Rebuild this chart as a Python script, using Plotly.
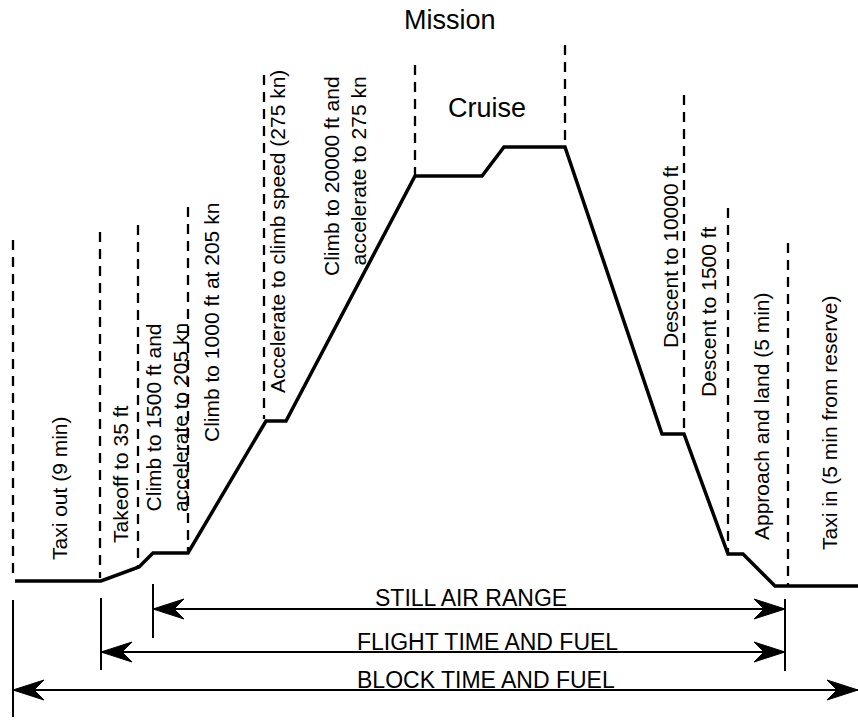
import plotly.graph_objects as go

# ---------------- data (pixel-like units: x = distance, y = height) ----------------
profile_dist = [15, 101, 139, 153, 188, 266, 286, 415, 482, 504, 565, 662, 684, 728, 743, 775, 858]
profile_alt = [140, 140, 154, 168, 168, 300, 300, 545, 545, 574, 574, 287, 287, 167, 167, 135, 135]

phase_x = [13, 100, 138, 188, 264, 415, 565, 684, 728, 788]
phase_top = [481, 489, 496, 514, 646, 656, 676, 626, 513, 478]
phase_bottom = [143, 143, 155, 169, 302, 546, 574, 288, 168, 135]

phase_labels = [
    "Taxi out (9 min)",
    "Takeoff to 35 ft",
    "Climb to 1500 ft and<br>accelerate to 205 kn",
    "Climb to 1000 ft at 205 kn",
    "Accelerate to climb speed (275 kn)",
    "Climb to 20000 ft and<br>accelerate to 275 kn",
    "Descent to 10000 ft",
    "Descent to 1500 ft",
    "Approach and land (5 min)",
    "Taxi in (5 min from reserve)",
]
phase_label_x = [59, 120, 167, 211, 277, 345, 670, 708, 761, 829]
phase_label_y = [233, 247, 303, 398, 489, 545, 464, 409, 304, 298]
phase_label_align = ["center", "center", "center", "center", "center", "right",
                     "center", "center", "center", "center"]

extent_x = [13, 101, 153, 785]
extent_top = [121, 123, 137, 122]
extent_bottom = [4, 51, 83, 50]

range_names = ["STILL AIR RANGE", "FLIGHT TIME AND FUEL", "BLOCK TIME AND FUEL"]
range_start = [153, 101, 13]
range_end = [785, 785, 858]
range_y = [112, 69, 31]
range_label_x = [471, 487, 486]
range_label_y = [123, 79, 41]

title_text = "Mission"
title_pos = (450, 701)
cruise_text = "Cruise"
cruise_pos = (487, 613)

FONT = "Liberation Sans, Arial, Helvetica, sans-serif"

fig = go.Figure()

# dashed phase boundaries
dx, dy = [], []
for x, t, b in zip(phase_x, phase_top, phase_bottom):
    dx += [x, x, None]
    dy += [t, b, None]
fig.add_trace(go.Scatter(x=dx, y=dy, mode="lines",
                         line=dict(color="black", width=2.3, dash="10px,7px"),
                         hoverinfo="skip", showlegend=False))

# solid extent markers
sx, sy = [], []
for x, t, b in zip(extent_x, extent_top, extent_bottom):
    sx += [x, x, None]
    sy += [t, b, None]
fig.add_trace(go.Scatter(x=sx, y=sy, mode="lines",
                         line=dict(color="black", width=2),
                         hoverinfo="skip", showlegend=False))

# range arrows (shafts)
ax_, ay_ = [], []
for x0, x1, y in zip(range_start, range_end, range_y):
    ax_ += [x0, x1, None]
    ay_ += [y, y, None]
fig.add_trace(go.Scatter(x=ax_, y=ay_, mode="lines",
                         line=dict(color="black", width=2.2),
                         hoverinfo="skip", showlegend=False))

# arrow heads (filled, notched)
L, H, N = 31, 20, 21
hx, hy = [], []
for x0, x1, y in zip(range_start, range_end, range_y):
    for tip, d in ((x0, -1), (x1, 1)):
        hx += [tip, tip - d * L, tip - d * N, tip - d * L, tip, None]
        hy += [y, y + H / 2, y, y - H / 2, y, None]
fig.add_trace(go.Scatter(x=hx, y=hy, mode="lines", fill="toself",
                         fillcolor="black", line=dict(color="black", width=1),
                         hoverinfo="skip", showlegend=False))

# mission profile
fig.add_trace(go.Scatter(x=profile_dist, y=profile_alt, mode="lines",
                         line=dict(color="black", width=3.5),
                         hoverinfo="skip", showlegend=False))

annotations = []
for txt, x, y, al in zip(phase_labels, phase_label_x, phase_label_y, phase_label_align):
    annotations.append(dict(x=x, y=y, xref="x", yref="y", text=txt, showarrow=False,
                            textangle=-90, xanchor="center", yanchor="middle", align=al,
                            font=dict(family=FONT, size=21, color="black")))
for txt, x, y in zip(range_names, range_label_x, range_label_y):
    annotations.append(dict(x=x, y=y, xref="x", yref="y", text=txt, showarrow=False,
                            xanchor="center", yanchor="middle",
                            font=dict(family=FONT, size=23, color="black")))
annotations.append(dict(x=title_pos[0], y=title_pos[1], xref="x", yref="y", text=title_text,
                        showarrow=False, xanchor="center", yanchor="middle",
                        font=dict(family=FONT, size=27, color="black")))
annotations.append(dict(x=cruise_pos[0], y=cruise_pos[1], xref="x", yref="y", text=cruise_text,
                        showarrow=False, xanchor="center", yanchor="middle",
                        font=dict(family=FONT, size=27, color="black")))

fig.update_layout(
    width=858, height=721, autosize=False,
    margin=dict(l=0, r=0, t=0, b=0, pad=0),
    paper_bgcolor="white", plot_bgcolor="white",
    xaxis=dict(range=[0, 858], visible=False, fixedrange=True),
    yaxis=dict(range=[0, 721], visible=False, fixedrange=True),
    annotations=annotations,
    showlegend=False,
)

fig.write_html(
    "out.html",
    config={"displayModeBar": False},
    post_script="document.body.style.margin='0';document.body.style.overflow='hidden';",
)
